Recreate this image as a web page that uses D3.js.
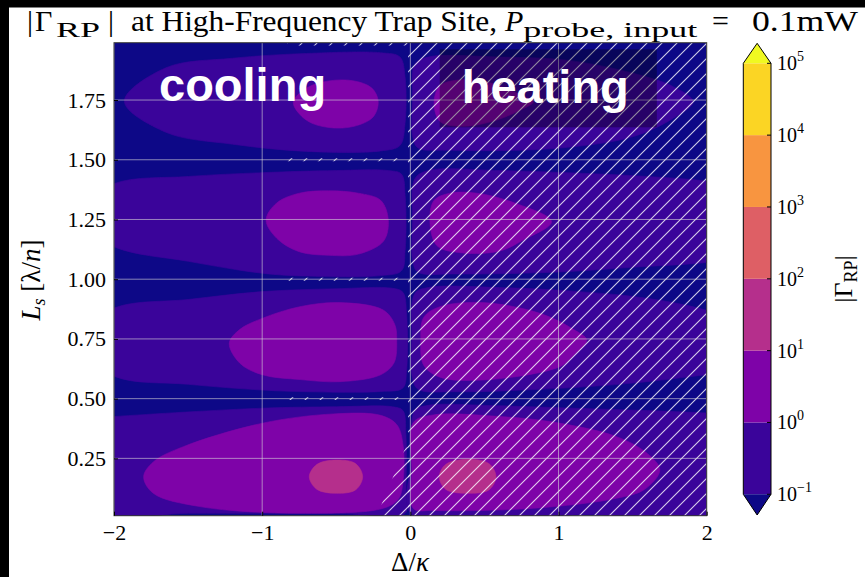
<!DOCTYPE html>
<html><head><meta charset="utf-8">
<script src="https://cdn.jsdelivr.net/npm/d3@7"></script>
<style>body{margin:0;background:#fff}text{font-family:"Liberation Serif","DejaVu Serif",serif}</style>
</head><body><svg id="c" width="865" height="577"></svg>
<script>
// ---------- data ----------
const xTicks = [-2, -1, 0, 1, 2];
const xTickLabels = ["\u22122", "\u22121", "0", "1", "2"];
const yTicks = [0.25, 0.5, 0.75, 1.0, 1.25, 1.5, 1.75];
const yTickLabels = ["0.25", "0.50", "0.75", "1.00", "1.25", "1.50", "1.75"];
const levels = [0.1, 1, 10, 100, 1e3, 1e4, 1e5];
const levelExponents = [-1, 0, 1, 2, 3, 4, 5];
const bandColorPos = [0.0833, 0.25, 0.4167, 0.5833, 0.75, 0.9167];

// contour outlines: [Δ/κ, L_s]
const cool175_b1 = [[-1.93,1.745],[-1.65,1.885],[-1.2,1.925],[-0.7,1.945],[-0.2,1.948],[-0.07,1.93],[-0.036,1.85],[-0.036,1.65],[-0.07,1.56],[-0.2,1.537],[-0.7,1.535],[-1.2,1.565],[-1.65,1.615]];
const cool175_b2 = [[-0.79,1.74],[-0.70,1.80],[-0.55,1.83],[-0.38,1.83],[-0.26,1.80],[-0.217,1.745],[-0.25,1.68],[-0.38,1.64],[-0.55,1.635],[-0.70,1.665]];
const cool125_b1 = [[-2.3,1.27],[-2.0,1.40],[-1.5,1.43],[-1.0,1.446],[-0.5,1.455],[-0.15,1.455],[-0.06,1.44],[-0.035,1.35],[-0.035,1.12],[-0.06,1.035],[-0.2,1.015],[-0.7,1.013],[-1.0,1.025],[-1.5,1.075],[-2.0,1.136]];
const cool125_b2 = [[-0.974,1.248],[-0.90,1.32],[-0.75,1.36],[-0.55,1.37],[-0.35,1.36],[-0.2,1.33],[-0.149,1.25],[-0.18,1.16],[-0.35,1.105],[-0.55,1.10],[-0.75,1.115],[-0.90,1.17]];
const cool075_b1 = [[-2.3,0.74],[-2.0,0.879],[-1.5,0.915],[-1.0,0.948],[-0.5,0.96],[-0.12,0.962],[-0.05,0.945],[-0.025,0.85],[-0.025,0.62],[-0.05,0.545],[-0.2,0.53],[-0.7,0.529],[-1.0,0.536],[-1.5,0.56],[-2.0,0.594]];
const cool075_b2 = [[-1.222,0.732],[-1.15,0.79],[-1.0,0.836],[-0.745,0.885],[-0.475,0.902],[-0.183,0.871],[-0.105,0.81],[-0.092,0.746],[-0.11,0.65],[-0.2,0.6],[-0.475,0.571],[-0.745,0.58],[-1.0,0.6],[-1.15,0.648]];
const cool025_b1 = [[-2.3,0.41],[-2.0,0.425],[-1.0,0.46],[-0.5,0.466],[-0.12,0.466],[-0.05,0.45],[-0.03,0.35],[-0.03,0.1],[-0.035,0.02],[-0.5,0.02],[-1.5,0.02],[-2.3,0.02]];
const cool025_b2 = [[-1.80,0.173],[-1.735,0.235],[-1.532,0.299],[-1.0,0.397],[-0.52,0.436],[-0.2,0.43],[-0.09,0.39],[-0.048,0.30],[-0.05,0.15],[-0.08,0.08],[-0.183,0.041],[-0.745,0.02],[-1.42,0.048],[-1.735,0.104]];
const cool025_b3 = [[-0.682,0.173],[-0.63,0.225],[-0.50,0.243],[-0.37,0.228],[-0.322,0.173],[-0.37,0.118],[-0.50,0.104],[-0.63,0.12]];
const heat175_b1 = [[0.015,1.75],[0.03,1.90],[0.12,1.93],[0.6,1.93],[1.055,1.917],[1.505,1.862],[1.775,1.806],[1.909,1.743],[1.775,1.674],[1.505,1.597],[0.99,1.548],[0.25,1.54],[0.05,1.55],[0.015,1.6]];
const heat175_b2 = [[0.16,1.74],[0.2,1.81],[0.35,1.835],[0.55,1.82],[0.75,1.77],[0.83,1.743],[0.75,1.71],[0.55,1.66],[0.35,1.64],[0.2,1.66]];
const heat125_b1 = [[0.015,1.24],[0.03,1.42],[0.12,1.455],[0.6,1.455],[1.1,1.445],[1.6,1.43],[2.0,1.41],[2.3,1.37],[2.3,1.1],[2.0,1.07],[1.5,1.05],[1.0,1.03],[0.3,1.022],[0.05,1.03],[0.015,1.08]];
const heat125_b2 = [[0.132,1.241],[0.16,1.33],[0.267,1.36],[0.45,1.36],[0.7,1.32],[0.953,1.241],[0.75,1.16],[0.605,1.118],[0.35,1.11],[0.18,1.14]];
const heat075_b1 = [[0.01,0.75],[0.03,0.94],[0.12,0.965],[0.6,0.965],[1.1,0.95],[1.6,0.92],[2.0,0.87],[2.3,0.8],[2.3,0.62],[2.0,0.6],[1.5,0.565],[1.0,0.543],[0.3,0.529],[0.05,0.54],[0.01,0.6]];
const heat075_b2 = [[0.07,0.745],[0.09,0.84],[0.2,0.885],[0.492,0.902],[0.875,0.857],[1.1,0.79],[1.19,0.745],[1.1,0.68],[1.01,0.634],[0.492,0.578],[0.2,0.59],[0.09,0.64]];
const heat025_b1 = [[0.01,0.25],[0.03,0.45],[0.12,0.472],[0.6,0.47],[1.1,0.46],[1.6,0.45],[2.0,0.44],[2.3,0.43],[2.3,0.015],[1.2,0.015],[0.01,0.015]];
const heat025_b2 = [[0.01,0.2],[0.02,0.40],[0.155,0.432],[0.605,0.425],[0.942,0.404],[1.392,0.341],[1.6,0.27],[1.684,0.201],[1.58,0.12],[1.392,0.083],[0.83,0.041],[0.155,0.032],[0.02,0.04]];
const heat025_b3 = [[0.195,0.173],[0.24,0.225],[0.387,0.246],[0.53,0.228],[0.578,0.173],[0.53,0.118],[0.387,0.104],[0.24,0.12]];

// heating (hatched) areas: [Δ/κ, L_s]
const heatMain = [[-0.015,-0.1],[2.1,-0.1],[2.1,2.1],[-0.015,2.1]];
const heatStrip050 = [[-0.83,0.494],[0,0.494],[0,0.506],[-0.83,0.506]];
const heatStrip100 = [[-0.83,0.994],[0,0.994],[0,1.006],[-0.83,1.006]];
const heatStrip150 = [[-0.83,1.494],[0,1.494],[0,1.506],[-0.83,1.506]];
const heatStripTop = [[-0.83,1.978],[0,1.978],[0,2.1],[-0.83,2.1]];
const heatCorner = [[-0.27,-0.1],[0,-0.1],[0,0.3],[-0.03,0.3],[-0.2,0.05]];

// ---------- drawing ----------
const svg = d3.select("#c");
const W = 865, H = 577;
const x = d3.scaleLinear().domain([-2, 2]).range([114, 706.7]);
const y = d3.scaleLinear().domain([0.01, 1.99]).range([515.7, 42.7]);
const bandColor = d3.scaleThreshold().domain(levels.slice(1, -1))
  .range(bandColorPos.map(p => d3.interpolatePlasma(p)));
const underColor = d3.interpolatePlasma(0), overColor = d3.interpolatePlasma(1);

svg.append("rect").attr("width", W).attr("height", H).attr("fill", "#fff");

const defs = svg.append("defs");
defs.append("clipPath").attr("id", "plotClip").append("rect")
  .attr("x", x(-2)).attr("y", y(1.99)).attr("width", x(2) - x(-2)).attr("height", y(0.01) - y(1.99));
const pat = defs.append("pattern").attr("id", "hatch").attr("patternUnits", "userSpaceOnUse")
  .attr("width", 15).attr("height", 15);
pat.append("path").attr("d", "M0,15 L15,0 M-3.75,3.75 L3.75,-3.75 M11.25,18.75 L18.75,11.25")
  .attr("stroke", "#fff").attr("stroke-opacity", 0.8).attr("stroke-width", 1.1);

const plot = svg.append("g").attr("clip-path", "url(#plotClip)");
plot.append("rect").attr("x", x(-2)).attr("y", y(1.99)).attr("width", x(2) - x(-2))
  .attr("height", y(0.01) - y(1.99)).attr("fill", underColor);

const regions = [
  {v: 0.5, pts: cool175_b1}, {v: 0.5, pts: cool125_b1}, {v: 0.5, pts: cool075_b1}, {v: 0.5, pts: cool025_b1},
  {v: 0.5, pts: heat175_b1}, {v: 0.5, pts: heat125_b1}, {v: 0.5, pts: heat075_b1}, {v: 0.5, pts: heat025_b1},
  {v: 5, pts: cool175_b2}, {v: 5, pts: cool125_b2}, {v: 5, pts: cool075_b2}, {v: 5, pts: cool025_b2},
  {v: 5, pts: heat175_b2}, {v: 5, pts: heat125_b2}, {v: 5, pts: heat075_b2}, {v: 5, pts: heat025_b2},
  {v: 50, pts: cool025_b3}, {v: 50, pts: heat025_b3}
];
const smooth = d3.line().x(d => x(d[0])).y(d => y(d[1])).curve(d3.curveCatmullRomClosed.alpha(0.5));
plot.selectAll("path.band").data(regions).join("path").attr("class", "band")
  .attr("d", d => smooth(d.pts)).attr("fill", d => bandColor(d.v))
  .attr("stroke", d => bandColor(d.v)).attr("stroke-width", 0.6);

const poly = d3.line().x(d => x(d[0])).y(d => y(d[1]));
const hatchAreas = [heatMain, heatStrip050, heatStrip100, heatStrip150, heatStripTop, heatCorner];
plot.selectAll("path.hatch").data(hatchAreas).join("path").attr("class", "hatch")
  .attr("d", d => poly(d) + "Z").attr("fill", "url(#hatch)");

// grid
const grid = plot.append("g").attr("stroke", "#d8d8d8").attr("stroke-opacity", 0.6).attr("stroke-width", 1);
grid.selectAll("line.gx").data(xTicks).join("line").attr("x1", d => x(d)).attr("x2", d => x(d))
  .attr("y1", y(1.99)).attr("y2", y(0.01));
grid.selectAll("line.gy").data(yTicks).join("line").attr("y1", d => y(d)).attr("y2", d => y(d))
  .attr("x1", x(-2)).attr("x2", x(2));

// annotation texts
plot.append("text").attr("x", 159).attr("y", 100.7).text("cooling")
  .style("font-family", "'Liberation Sans', Arial, sans-serif").style("font-weight", "bold")
  .style("font-size", "47px").attr("fill", "#fff");
const heatBoxG = plot.append("g");
const heatText = svg.append("text").attr("x", 461.7).attr("y", 102.7).text("heating")
  .style("font-family", "'Liberation Sans', Arial, sans-serif").style("font-weight", "bold")
  .style("font-size", "47px").attr("fill", "#fff");
const hb = heatText.node().getBBox();
heatBoxG.append("rect").attr("x", hb.x - 22).attr("y", 49.3)
  .attr("width", hb.width + 50).attr("height", 78).attr("fill", "#000").attr("fill-opacity", 0.32);

// axes frame & ticks
svg.append("rect").attr("x", x(-2)).attr("y", y(1.99)).attr("width", x(2) - x(-2))
  .attr("height", y(0.01) - y(1.99)).attr("fill", "none").attr("stroke", "#333").attr("stroke-width", 1);
const xAxis = d3.axisBottom(x).tickValues(xTicks).tickFormat((d, i) => xTickLabels[i]).tickSizeInner(-4).tickSizeOuter(0).tickPadding(9);
const gx = svg.append("g").attr("transform", `translate(0,${y(0.01)})`).call(xAxis);
gx.select(".domain").remove();
gx.selectAll("text").style("font-size", "22px").attr("fill", "#000");
const yAxis = d3.axisLeft(y).tickValues(yTicks).tickFormat((d, i) => yTickLabels[i]).tickSizeInner(-4).tickSizeOuter(0).tickPadding(8);
const gy = svg.append("g").attr("transform", `translate(${x(-2)},0)`).call(yAxis);
gy.select(".domain").remove();
gy.selectAll("text").style("font-size", "22px").attr("fill", "#000");

// axis labels
const xl = svg.append("text").attr("x", 410).attr("y", 571).attr("text-anchor", "middle").style("font-size", "27px");
xl.append("tspan").text("\u0394/");
xl.append("tspan").style("font-style", "italic").text("\u03ba");
const yl = svg.append("text").attr("transform", "translate(40,280) rotate(-90)").attr("text-anchor", "middle").style("font-size", "27px");
yl.append("tspan").style("font-style", "italic").text("L");
yl.append("tspan").style("font-style", "italic").style("font-size", "18px").attr("dy", 5).text("s");
yl.append("tspan").attr("dy", -5).text(" [\u03bb/");
yl.append("tspan").style("font-style", "italic").text("n");
yl.append("tspan").text("]");

// title
const t = svg.append("text").attr("y", 31).style("font-size", "30px");
t.append("tspan").attr("x", 27).text("|");
t.append("tspan").attr("x", 35).text("\u0393");
t.append("tspan").attr("x", 56).style("font-size", "22px").attr("dy", 6).attr("textLength", 44).attr("lengthAdjust", "spacingAndGlyphs").text("RP");
t.append("tspan").attr("x", 108).attr("dy", -6).text("|");
t.append("tspan").attr("x", 131).attr("textLength", 366).attr("lengthAdjust", "spacingAndGlyphs").text("at High-Frequency Trap Site,");
t.append("tspan").attr("x", 505).style("font-style", "italic").text("P");
t.append("tspan").style("font-size", "21px").attr("dy", 6).attr("textLength", 174).attr("lengthAdjust", "spacingAndGlyphs").text("probe, input");
t.append("tspan").attr("dy", -6).attr("x", 712).text("=");
t.append("tspan").attr("x", 752).attr("textLength", 106).attr("lengthAdjust", "spacingAndGlyphs").text("0.1mW");

// colorbar
const cbX = 743.3, cbW = 27.7;
const cb = d3.scaleLog().domain([0.1, 1e5]).range([494.3, 63.3]);
const cbG = svg.append("g");
cbG.selectAll("rect").data(d3.range(levels.length - 1)).join("rect")
  .attr("x", cbX).attr("width", cbW)
  .attr("y", i => cb(levels[i + 1])).attr("height", i => cb(levels[i]) - cb(levels[i + 1]))
  .attr("fill", i => d3.interpolatePlasma(bandColorPos[i]));
cbG.append("path").attr("d", `M${cbX},${cb(1e5)} L${cbX + cbW / 2},${cb(1e5) - 20} L${cbX + cbW},${cb(1e5)} Z`).attr("fill", overColor);
cbG.append("path").attr("d", `M${cbX},${cb(0.1)} L${cbX + cbW / 2},${cb(0.1) + 20.7} L${cbX + cbW},${cb(0.1)} Z`).attr("fill", underColor);
cbG.append("path").attr("d", `M${cbX},${cb(0.1)} L${cbX + cbW / 2},${cb(0.1) + 20.7} L${cbX + cbW},${cb(0.1)} L${cbX + cbW},${cb(1e5)} L${cbX + cbW / 2},${cb(1e5) - 20} L${cbX},${cb(1e5)} Z`)
  .attr("fill", "none").attr("stroke", "#000").attr("stroke-width", 1);
const cbTicks = cbG.selectAll("g.cbt").data(levels).join("g").attr("class", "cbt");
cbTicks.append("line").attr("x1", cbX + cbW - 4).attr("x2", cbX + cbW).attr("y1", d => cb(d)).attr("y2", d => cb(d)).attr("stroke", "#000");
const cbt = cbTicks.append("text").attr("x", 777).attr("y", d => cb(d) + 7).style("font-size", "20px");
cbt.append("tspan").text("10");
cbt.append("tspan").style("font-size", "14px").attr("dy", -9).text((d, i) => levelExponents[i] < 0 ? "\u2212" + Math.abs(levelExponents[i]) : levelExponents[i]);
const cl = svg.append("text").attr("transform", "translate(852,279) rotate(-90)").attr("text-anchor", "middle").style("font-size", "26px");
cl.append("tspan").text("|\u0393");
cl.append("tspan").style("font-size", "18px").attr("dy", 5).text("RP");
cl.append("tspan").attr("dy", -5).text("|");

// black border strips
svg.append("rect").attr("x", 0).attr("y", 0).attr("width", W).attr("height", 7.5).attr("fill", "#000");
svg.append("rect").attr("x", 0).attr("y", 0).attr("width", 9).attr("height", H).attr("fill", "#000");
</script></body></html>
